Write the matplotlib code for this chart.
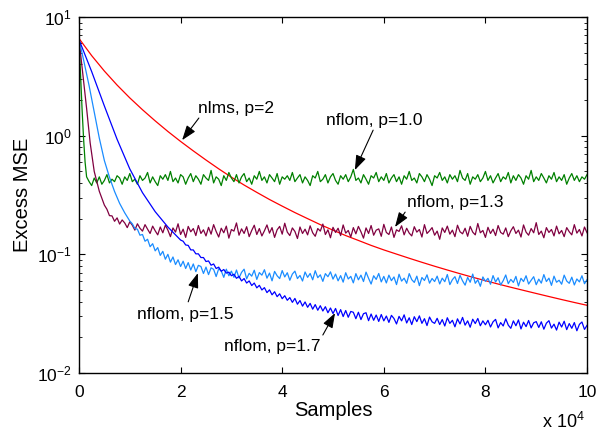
import numpy as np
import matplotlib
matplotlib.use('Agg')
import matplotlib.pyplot as plt

plt.rcParams['font.family'] = ['Liberation Sans', 'DejaVu Sans']
plt.rcParams['mathtext.fontset'] = 'custom'
plt.rcParams['mathtext.rm'] = 'Liberation Sans'
plt.rcParams['mathtext.it'] = 'Liberation Sans:italic'
plt.rcParams['mathtext.bf'] = 'Liberation Sans:bold'

# x in units of 10^4 samples, noisy parts sampled every STEP
STEP = 0.05

# nlms, p=2 (read every 0.25)
y_nlms = [6.607, 4.732, 3.508, 2.673, 2.084, 1.656, 1.334, 1.086, 0.895, 0.745,
          0.624, 0.526, 0.447, 0.384, 0.333, 0.290, 0.255, 0.225, 0.200, 0.178,
          0.160, 0.144, 0.131, 0.119, 0.109, 0.1005, 0.0927, 0.0857, 0.0794, 0.0738,
          0.0687, 0.0641, 0.0600, 0.0562, 0.0528, 0.0497, 0.0468, 0.0441, 0.0416, 0.0393,
          0.0372]

# nflom, p=1.0
x_p10_start = [0, 0.03, 0.06, 0.09, 0.12, 0.15]
y_p10_start = [6.6, 3.3, 1.7, 0.95, 0.60, 0.45]
p10_x0 = 0.2
y_p10 = [0.41, 0.38, 0.44, 0.40, 0.45, 0.39, 0.42, 0.47, 0.40, 0.43, 0.41, 0.46, 0.44, 0.39, 0.45, 0.42, 0.48, 0.41, 0.43, 0.39,
         0.46, 0.42, 0.44, 0.49, 0.40, 0.45, 0.41, 0.38, 0.46, 0.43, 0.47, 0.42, 0.50, 0.41, 0.44, 0.40, 0.47, 0.45, 0.39, 0.44,
         0.48, 0.41, 0.46, 0.43, 0.39, 0.47, 0.44, 0.42, 0.51, 0.40, 0.45, 0.43, 0.38, 0.46, 0.42, 0.49, 0.44, 0.41, 0.47, 0.40,
         0.45, 0.48, 0.41, 0.44, 0.39, 0.46, 0.43, 0.50, 0.42, 0.45, 0.40, 0.47, 0.44, 0.41, 0.48, 0.39, 0.45, 0.43, 0.46, 0.42,
         0.49, 0.41, 0.44, 0.47, 0.40, 0.45, 0.42, 0.38, 0.46, 0.44, 0.50, 0.41, 0.43, 0.47, 0.40, 0.45, 0.48, 0.42, 0.39, 0.46,
         0.43, 0.47, 0.41, 0.45, 0.52, 0.42, 0.44, 0.40, 0.47, 0.43, 0.39, 0.46, 0.44, 0.49, 0.41, 0.45, 0.42, 0.48, 0.40, 0.44,
         0.47, 0.41, 0.45, 0.39, 0.46, 0.43, 0.50, 0.42, 0.44, 0.40, 0.48, 0.45, 0.41, 0.47, 0.43, 0.38, 0.46, 0.44, 0.49, 0.42,
         0.45, 0.40, 0.47, 0.43, 0.46, 0.41, 0.51, 0.44, 0.42, 0.48, 0.39, 0.45, 0.43, 0.47, 0.41, 0.44, 0.50, 0.42, 0.46, 0.40,
         0.44, 0.48, 0.41, 0.45, 0.43, 0.49, 0.40, 0.46, 0.42, 0.47, 0.44, 0.39, 0.46, 0.43, 0.51, 0.41, 0.45, 0.42, 0.48, 0.44,
         0.40, 0.46, 0.43, 0.49, 0.41, 0.45, 0.42, 0.47, 0.39, 0.44, 0.48, 0.42, 0.46, 0.41, 0.45, 0.43, 0.47]

# nflom, p=1.3
x_p13_start = [0, 0.08, 0.15, 0.22, 0.3, 0.4, 0.5]
y_p13_start = [6.5, 3.2, 1.7, 0.87, 0.50, 0.34, 0.26]
p13_x0 = 0.55
y_p13 = [0.240, 0.212, 0.211, 0.190, 0.203, 0.180, 0.195, 0.184, 0.168, 0.188, 0.176, 0.160, 0.181, 0.166, 0.157, 0.178, 0.163, 0.150, 0.173, 0.158,
         0.146, 0.170, 0.152, 0.176, 0.160, 0.141, 0.167, 0.154, 0.181, 0.147, 0.163, 0.139, 0.172, 0.155, 0.165, 0.144, 0.175, 0.150, 0.161, 0.143,
         0.169, 0.148, 0.178, 0.156, 0.140, 0.166, 0.152, 0.173, 0.137, 0.162, 0.157, 0.184, 0.145, 0.164, 0.150, 0.171, 0.141, 0.159, 0.176, 0.147,
         0.165, 0.143, 0.158, 0.177, 0.151, 0.168, 0.139, 0.161, 0.172, 0.148, 0.183, 0.154, 0.144, 0.167, 0.156, 0.136, 0.170, 0.150, 0.163, 0.146,
         0.174, 0.152, 0.142, 0.165, 0.157, 0.180, 0.147, 0.161, 0.138, 0.169, 0.153, 0.166, 0.144, 0.177, 0.151, 0.159, 0.140, 0.168, 0.149, 0.172,
         0.155, 0.137, 0.167, 0.150, 0.175, 0.145, 0.160, 0.164, 0.142, 0.179, 0.153, 0.147, 0.170, 0.139, 0.161, 0.156, 0.174, 0.146, 0.166, 0.151,
         0.143, 0.171, 0.154, 0.162, 0.140, 0.178, 0.150, 0.158, 0.168, 0.145, 0.157, 0.134, 0.167, 0.153, 0.173, 0.148, 0.160, 0.141, 0.176, 0.155,
         0.149, 0.166, 0.142, 0.172, 0.154, 0.146, 0.182, 0.152, 0.159, 0.139, 0.169, 0.150, 0.163, 0.144, 0.175, 0.153, 0.148, 0.167, 0.141, 0.158,
         0.171, 0.150, 0.160, 0.140, 0.177, 0.154, 0.145, 0.165, 0.152, 0.185, 0.147, 0.157, 0.138, 0.168, 0.153, 0.162, 0.143, 0.173, 0.149, 0.159,
         0.141, 0.168, 0.155, 0.146, 0.178, 0.151, 0.162, 0.143, 0.170, 0.152]

# nflom, p=1.5
x_p15_start = [0, 0.1, 0.2, 0.3, 0.4, 0.5, 0.6, 0.7, 0.8, 0.9, 1.0]
y_p15_start = [6.5, 4.17, 2.63, 1.58, 0.955, 0.617, 0.447, 0.339, 0.269, 0.224, 0.191]
p15_x0 = 1.05
y_p15 = [0.181, 0.165, 0.163, 0.145, 0.147, 0.129, 0.134, 0.116, 0.123, 0.107, 0.114, 0.098, 0.106, 0.091, 0.100, 0.086, 0.095, 0.082, 0.090, 0.079,
         0.0875, 0.0760, 0.0852, 0.0738, 0.0830, 0.0715, 0.0808, 0.0790, 0.0690, 0.0781, 0.0675, 0.0770, 0.0748, 0.0650, 0.0756, 0.0725, 0.0640, 0.0750, 0.0660, 0.0722,
         0.0640, 0.0738, 0.0632, 0.0705, 0.0750, 0.0622, 0.0692, 0.0655, 0.0735, 0.0615, 0.0702, 0.0668, 0.0742, 0.0630, 0.0695, 0.0598, 0.0718, 0.0660, 0.0625, 0.0730,
         0.0645, 0.0700, 0.0605, 0.0682, 0.0722, 0.0625, 0.0664, 0.0596, 0.0710, 0.0640, 0.0690, 0.0610, 0.0728, 0.0636, 0.0672, 0.0592, 0.0688, 0.0648, 0.0712, 0.0618,
         0.0682, 0.0598, 0.0662, 0.0583, 0.0700, 0.0620, 0.0652, 0.0575, 0.0688, 0.0610, 0.0668, 0.0590, 0.0708, 0.0628, 0.0562, 0.0660, 0.0615, 0.0690, 0.0586, 0.0652,
         0.0574, 0.0668, 0.0600, 0.0645, 0.0556, 0.0680, 0.0595, 0.0630, 0.0570, 0.0688, 0.0612, 0.0580, 0.0655, 0.0545, 0.0638, 0.0602, 0.0672, 0.0572, 0.0626, 0.0590,
         0.0655, 0.0563, 0.0630, 0.0588, 0.0676, 0.0556, 0.0612, 0.0648, 0.0568, 0.0665, 0.0598, 0.0550, 0.0640, 0.0582, 0.0682, 0.0570, 0.0610, 0.0538, 0.0645, 0.0592,
         0.0628, 0.0560, 0.0662, 0.0585, 0.0635, 0.0552, 0.0600, 0.0670, 0.0566, 0.0615, 0.0580, 0.0652, 0.0542, 0.0628, 0.0590, 0.0660, 0.0562, 0.0605, 0.0648, 0.0555,
         0.0618, 0.0572, 0.0675, 0.0590, 0.0630, 0.0548, 0.0655, 0.0582, 0.0605, 0.0560, 0.0668, 0.0596, 0.0570, 0.0642, 0.0552, 0.0620, 0.0586, 0.0660, 0.0565, 0.0612]

# nflom, p=1.7
x_p17_start = [0, 0.25, 0.5, 0.75, 1.0, 1.25, 1.5, 1.75, 2.0]
y_p17_start = [6.46, 3.47, 1.78, 0.933, 0.525, 0.331, 0.229, 0.170, 0.132]
p17_x0 = 2.05
y_p17 = [0.129, 0.120, 0.119, 0.109, 0.109, 0.101, 0.101, 0.094, 0.094, 0.087, 0.088, 0.081, 0.083, 0.076, 0.078, 0.072, 0.0745, 0.0695, 0.0708, 0.0660,
         0.0680, 0.0628, 0.0652, 0.0597, 0.0625, 0.0573, 0.0597, 0.0546, 0.0573, 0.0522, 0.0548, 0.0501, 0.0524, 0.0476, 0.0502, 0.0456, 0.0484, 0.0440, 0.0465, 0.0423,
         0.0448, 0.0410, 0.0432, 0.0394, 0.0425, 0.0380, 0.0408, 0.0366, 0.0397, 0.0358, 0.0386, 0.0345, 0.0377, 0.0338, 0.0369, 0.0333, 0.0362, 0.0322, 0.0353, 0.0317,
         0.0350, 0.0305, 0.0342, 0.0299, 0.0336, 0.0295, 0.0330, 0.0325, 0.0287, 0.0325, 0.0282, 0.0316, 0.0322, 0.0276, 0.0314, 0.0278, 0.0308, 0.0272, 0.0311, 0.0275,
         0.0302, 0.0267, 0.0306, 0.0288, 0.0259, 0.0300, 0.0275, 0.0309, 0.0264, 0.0292, 0.0256, 0.0298, 0.0271, 0.0303, 0.0262, 0.0287, 0.0251, 0.0296, 0.0270, 0.0262,
         0.0289, 0.0256, 0.0282, 0.0249, 0.0292, 0.0262, 0.0278, 0.0245, 0.0286, 0.0259, 0.0294, 0.0253, 0.0275, 0.0243, 0.0284, 0.0261, 0.0288, 0.0250, 0.0275, 0.0255,
         0.0278, 0.0244, 0.0270, 0.0283, 0.0240, 0.0266, 0.0249, 0.0286, 0.0253, 0.0238, 0.0275, 0.0250, 0.0280, 0.0235, 0.0268, 0.0246, 0.0277, 0.0240, 0.0265, 0.0271,
         0.0242, 0.0270, 0.0234, 0.0263, 0.0276, 0.0239, 0.0258, 0.0230, 0.0268, 0.0244, 0.0273, 0.0232, 0.0261, 0.0238, 0.0266, 0.0227, 0.0257, 0.0269, 0.0233, 0.0252]

x_ticks = [0, 2, 4, 6, 8, 10]


def curve(x_start, y_start, x0, y_noise):
    x = list(x_start) + list(x0 + STEP * np.arange(len(y_noise)))
    return x, list(y_start) + list(y_noise)


fig = plt.figure(figsize=(5.97, 4.34), dpi=100)
ax = fig.add_axes([0.1323, 0.1406, 0.851, 0.820])

lw = 0.9
ax.plot(0.25 * np.arange(len(y_nlms)), y_nlms, color='#ff0000', lw=lw)
ax.plot(*curve(x_p10_start, y_p10_start, p10_x0, y_p10), color='#008000', lw=lw)
ax.plot(*curve(x_p13_start, y_p13_start, p13_x0, y_p13), color='#800040', lw=lw)
ax.plot(*curve(x_p15_start, y_p15_start, p15_x0, y_p15), color='#1a8cff', lw=lw)
ax.plot(*curve(x_p17_start, y_p17_start, p17_x0, y_p17), color='#0000ff', lw=lw)

ax.set_yscale('log')
ax.set_xlim(0, 10)
ax.set_ylim(1e-2, 1e1)
ax.set_xticks(x_ticks)
ax.set_xticklabels([str(t) for t in x_ticks])
ax.tick_params(which='both', direction='in', top=True, right=True, labelsize=12.5)
ax.tick_params(which='major', length=4, width=0.8)
ax.tick_params(which='minor', length=2.2, width=0.6)
ax.tick_params(axis='x', pad=8.5)
ax.tick_params(axis='y', pad=5)
ax.xaxis.set_minor_locator(matplotlib.ticker.NullLocator())
for s in ax.spines.values():
    s.set_linewidth(1.0)

ax.set_xlabel('Samples', fontsize=14.5, labelpad=1)
ax.set_ylabel('Excess MSE', fontsize=14.5, labelpad=4)
ax.text(0.911, -0.154, r'x $\mathdefault{10^{4}}$', transform=ax.transAxes,
        fontsize=13, ha='left', va='baseline')

# annotations: (text, text left/center, arrow tail, arrow tip)
notes = [
    ('nlms, p=2', (2.34, 1.71), (2.36, 1.41), (2.03, 0.918)),
    ('nflom, p=1.0', (4.86, 1.35), (5.79, 1.114), (5.43, 0.513)),
    ('nflom, p=1.3', (6.45, 0.276), (6.42, 0.227), (6.22, 0.17)),
    ('nflom, p=1.5', (1.14, 0.0314), (2.15, 0.0398), (2.34, 0.0695)),
    ('nflom, p=1.7', (2.85, 0.01687), (4.80, 0.0209), (5.04, 0.032)),
]
for label, tpos, tail, tip in notes:
    ax.annotate('', xy=tip, xytext=tail,
                arrowprops=dict(arrowstyle='-|>,head_length=0.45,head_width=0.16',
                                mutation_scale=20, color='k', lw=0.8,
                                shrinkA=0, shrinkB=0))
    ax.text(tpos[0], tpos[1], label, fontsize=12.5, ha='left', va='center')

fig.savefig('out.png', dpi=100)
